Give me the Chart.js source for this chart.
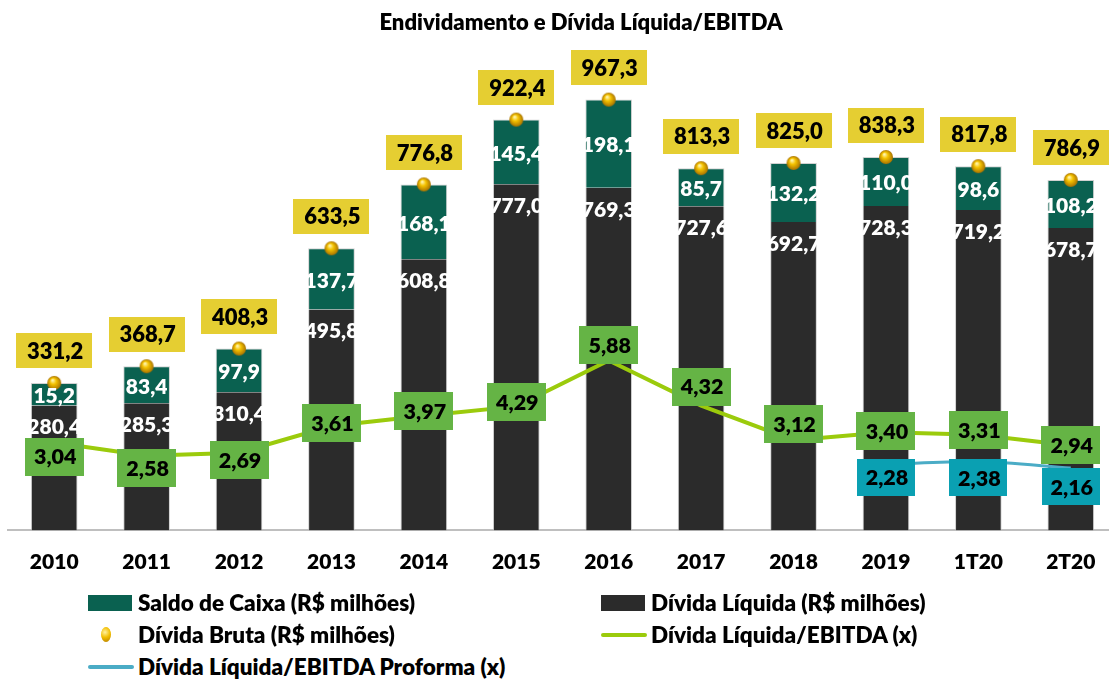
<!DOCTYPE html>
<html>
<head>
<meta charset="utf-8">
<script src="https://cdn.jsdelivr.net/npm/chart.js@4.4.1/dist/chart.umd.min.js"></script>
<style>
    html, body { margin: 0; padding: 0; background: #fff; overflow: hidden; width: 1109px; height: 681px; }
    body { position: relative; font-family: Lato, "Open Sans", sans-serif; font-weight: 800; color: #000; }
    #wrap { position: absolute; left: 0; top: 0; width: 1125px; height: 605px; }
    #title { position: absolute; left: 0; top: 9px; width: 1162px; text-align: center; font-size: 22px; line-height: 26px; }
    .lg { position: absolute; font-size: 22.5px; line-height: 26px; white-space: nowrap; }
    .sw { position: absolute; }
</style>
</head>
<body>
<div id="wrap"><canvas id="chart"></canvas></div>
<div id="title">Endividamento e Dívida Líquida/EBITDA</div>

<div class="sw" style="left:88px;top:595px;width:44px;height:16px;background:#0A6150"></div>
<div class="lg" style="left:138px;top:590px">Saldo de Caixa (R$ milhões)</div>
<div class="sw" style="left:601px;top:595px;width:44px;height:16px;background:#2B2B2B"></div>
<div class="lg" style="left:651px;top:590px">Dívida Líquida (R$ milhões)</div>
<div class="sw" style="left:101px;top:627px;width:10px;height:15px;border-radius:50%;background:radial-gradient(circle at 40% 35%, #FFF1A0, #F2BE00 45%, #B07800)"></div>
<div class="lg" style="left:138px;top:622px">Dívida Bruta (R$ milhões)</div>
<div class="sw" style="left:601px;top:633px;width:46px;height:4px;border-radius:2px;background:#9BCB0C"></div>
<div class="lg" style="left:651px;top:622px">Dívida Líquida/EBITDA (x)</div>
<div class="sw" style="left:88px;top:665px;width:46px;height:4px;border-radius:2px;background:#4BACC6"></div>
<div class="lg" style="left:138px;top:654px">Dívida Líquida/EBITDA Proforma (x)</div>

<script>
    // chart values
    var categories = ["2010", "2011", "2012", "2013", "2014", "2015", "2016", "2017", "2018", "2019", "1T20", "2T20"];
    var dividaLiquida = [280.4, 285.3, 310.4, 495.8, 608.8, 777.0, 769.3, 727.6, 692.7, 728.3, 719.2, 678.7];
    var saldoCaixa = [15.2, 83.4, 97.9, 137.7, 168.1, 145.4, 198.1, 85.7, 132.2, 110.0, 98.6, 108.2];
    var dividaBruta = [331.2, 368.7, 408.3, 633.5, 776.8, 922.4, 967.3, 813.3, 825.0, 838.3, 817.8, 786.9];
    var dlEbitda = [3.04, 2.58, 2.69, 3.61, 3.97, 4.29, 5.88, 4.32, 3.12, 3.40, 3.31, 2.94];
    var dlEbitdaProforma = [null, null, null, null, null, null, null, null, null, 2.28, 2.38, 2.16];

    // the green segment in the picture runs from net debt up to gross debt
    var caixaSegmento = dividaBruta.map(function (v, i) { return v - dividaLiquida[i]; });

    // label nudges (px) to follow the hand placed labels of the original
    var ratioShift = [14, 12, 7, -3, -5, -4, -15, -19, -16, -1, -5, 0];
    var proformaShift = [0, 0, 0, 0, 0, 0, 0, 0, 0, 13, 16, 19];

    var FONT = "Lato, 'Open Sans', sans-serif";

    var fmt = function (v, d) {
        return v.toFixed(d).replace(".", ",");
    };

    var goldBall = function (r) {
        var c = document.createElement("canvas");
        c.width = c.height = 2 * r + 2;
        var g = c.getContext("2d");
        var grd = g.createRadialGradient(r * 0.75 + 1, r * 0.6 + 1, 0.5, r + 1, r + 1, r);
        grd.addColorStop(0, "#FFF6B0");
        grd.addColorStop(0.4, "#F5C300");
        grd.addColorStop(1, "#A87200");
        g.fillStyle = grd;
        g.beginPath();
        g.arc(r + 1, r + 1, r, 0, Math.PI * 2);
        g.fill();
        return c;
    };

    var boxLabel = function (ctx, text, cx, cy, w, h, bg) {
        ctx.fillStyle = bg;
        ctx.fillRect(Math.round(cx - w / 2), Math.round(cy - h / 2), w, h);
        ctx.fillStyle = "#000";
        ctx.fillText(text, cx + 1, cy + 1);
    };

    var labelPlugin = {
        id: "boxLabels",
        afterDatasetsDraw: function (chart) {
            var ctx = chart.ctx;
            var x = chart.scales.x, y = chart.scales.y, y1 = chart.scales.y1;
            ctx.save();
            ctx.textAlign = "center";
            ctx.textBaseline = "middle";

            // white values inside the bars
            ctx.font = "800 21px " + FONT;
            ctx.fillStyle = "#fff";
            for (var i = 0; i < categories.length; i++) {
                var cx = x.getPixelForValue(i);
                var topLiq = y.getPixelForValue(dividaLiquida[i]);
                var topBr = y.getPixelForValue(dividaBruta[i]);
                ctx.fillText(fmt(dividaLiquida[i], 1), cx, topLiq + 22);
                ctx.fillText(fmt(saldoCaixa[i], 1), cx, (topLiq + topBr) / 2 + 2);
            }

            // ratio boxes
            ctx.font = "800 21.5px " + FONT;
            for (var j = 0; j < categories.length; j++) {
                var px = x.getPixelForValue(j);
                boxLabel(ctx, fmt(dlEbitda[j], 2), px, y1.getPixelForValue(dlEbitda[j]) + ratioShift[j], 59, 38, "#65B445");
                if (dlEbitdaProforma[j] !== null) {
                    boxLabel(ctx, fmt(dlEbitdaProforma[j], 2), px, y1.getPixelForValue(dlEbitdaProforma[j]) + proformaShift[j], 58, 37, "#0AA0B2");
                }
            }

            // gross debt boxes
            ctx.font = "800 22px " + FONT;
            for (var k = 0; k < categories.length; k++) {
                boxLabel(ctx, fmt(dividaBruta[k], 1), x.getPixelForValue(k), y.getPixelForValue(dividaBruta[k]) - 32, 76, 35, "#E5CE32");
            }
            ctx.restore();
        }
    };

    new Chart(document.getElementById("chart"), {
        type: "bar",
        data: {
            labels: categories,
            datasets: [
                {
                    type: "line",
                    label: "Dívida Bruta (R$ milhões)",
                    data: dividaBruta,
                    yAxisID: "y",
                    stack: "bruta",
                    showLine: false,
                    pointStyle: goldBall(7),
                    pointRadius: 7,
                    order: 0
                },
                {
                    type: "line",
                    label: "Dívida Líquida/EBITDA (x)",
                    data: dlEbitda,
                    yAxisID: "y1",
                    borderColor: "#9BCB0C",
                    borderWidth: 4,
                    pointRadius: 0,
                    tension: 0,
                    order: 1
                },
                {
                    type: "line",
                    label: "Dívida Líquida/EBITDA Proforma (x)",
                    data: dlEbitdaProforma,
                    yAxisID: "y1",
                    borderColor: "#4BACC6",
                    borderWidth: 3,
                    pointRadius: 0,
                    tension: 0.3,
                    order: 1
                },
                {
                    label: "Dívida Líquida (R$ milhões)",
                    data: dividaLiquida,
                    yAxisID: "y",
                    backgroundColor: "#2B2B2B",
                    borderColor: "rgba(190,190,190,0.7)",
                    borderWidth: { left: 1, right: 1, top: 0, bottom: 0 },
                    categoryPercentage: 0.505,
                    barPercentage: 1,
                    order: 2
                },
                {
                    label: "Saldo de Caixa (R$ milhões)",
                    data: caixaSegmento,
                    yAxisID: "y",
                    backgroundColor: "#0A6150",
                    borderColor: "rgba(190,190,190,0.7)",
                    borderWidth: { left: 1, right: 1, top: 1, bottom: 0 },
                    categoryPercentage: 0.505,
                    barPercentage: 1,
                    order: 2
                }
            ]
        },
        options: {
            responsive: true,
            maintainAspectRatio: false,
            animation: false,
            layout: { padding: { left: 3.5, right: 4.3, top: 20, bottom: 11.4 } },
            plugins: {
                legend: { display: false },
                tooltip: { enabled: false }
            },
            scales: {
                x: {
                    stacked: true,
                    grid: { display: false, drawTicks: false },
                    border: { display: true, color: "#BFBFBF", width: 2 },
                    ticks: { color: "#000", padding: 19, font: { family: FONT, size: 21, weight: "800" } }
                },
                y: { stacked: true, display: false, min: 0, max: 1146 },
                y1: { display: false, min: 0, max: 17.66 }
            }
        },
        plugins: [labelPlugin]
    });
</script>
</body>
</html>
